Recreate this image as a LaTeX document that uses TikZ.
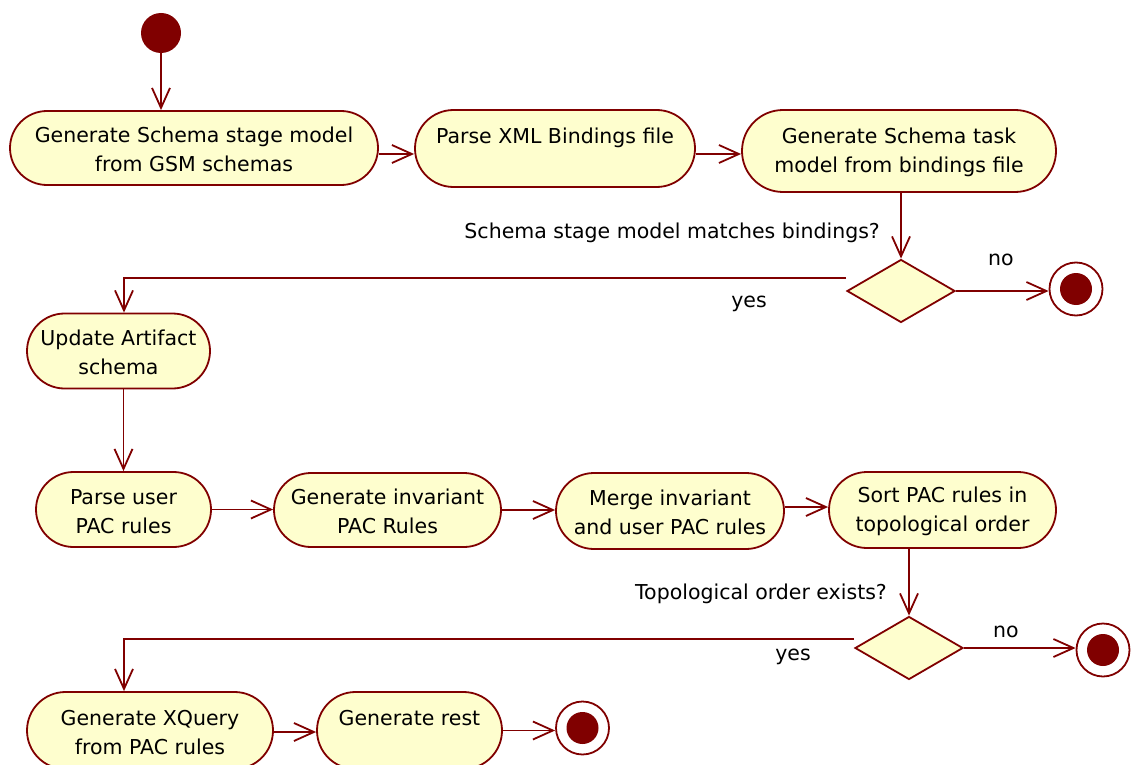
\documentclass[tikz,border=0pt]{standalone}
\usepackage{fontspec}
\setmainfont{DejaVu Sans}
\usetikzlibrary{arrows.meta,shapes.geometric,shapes.misc,calc}
\definecolor{uml}{HTML}{800000}
\definecolor{actfill}{HTML}{FEFECE}

\begin{document}
\begin{tikzpicture}[x=1pt,y=-1pt,
  every node/.style={font=\fontsize{20.5}{29}\selectfont, inner sep=0pt},
  act/.style={rounded rectangle, draw=uml, fill=actfill, line width=1.8pt, align=center},
  choice/.style={diamond, draw=uml, fill=actfill, line width=1.8pt, minimum width=108pt, minimum height=63pt},
  startnode/.style={circle, fill=uml, minimum size=40pt},
  endnode/.style={circle, draw=uml, fill=white, line width=1.8pt, minimum size=53pt,
    path picture={\fill[uml] (path picture bounding box.center) circle (16pt);}},
  flow/.style={draw=uml, line width=1.8pt, -{Straight Barb[length=20pt,width=18pt]}}]

\useasboundingbox (0,0) rectangle (1132,765);
\clip (0,0) rectangle (1132,765);

% activities
\node[startnode] (s) at (161,33) {};
\node[act, minimum width=368pt, minimum height=74pt] (n1) at (194,148) {\rule{0pt}{19pt}Generate Schema stage model\\from GSM schemas};
\node[act, minimum width=280pt, minimum height=77pt] (n2) at (555,148.5) {\rule{0pt}{19pt}Parse XML Bindings file\\\mbox{}};
\node[act, minimum width=314pt, minimum height=82pt] (n3) at (899,151) {\rule{0pt}{19pt}Generate Schema task\\model from bindings file};
\node[choice] (d1) at (901,291) {};
\node[endnode] (f1) at (1076,289) {};
\node[act, minimum width=183pt, minimum height=75pt] (n4) at (118.5,351) {\rule{0pt}{19pt}Update Artifact\\schema};
\node[act, minimum width=175pt, minimum height=75pt] (n5) at (123.5,509.5) {\rule{0pt}{19pt}Parse user\\PAC rules};
\node[act, minimum width=227pt, minimum height=74pt] (n6) at (387.5,510) {\rule{0pt}{19pt}Generate invariant\\PAC Rules};
\node[act, minimum width=228pt, minimum height=76pt] (n7) at (670,511) {\rule{0pt}{19pt}Merge invariant\\and user PAC rules};
\node[act, minimum width=227pt, minimum height=76pt] (n8) at (942.5,510) {\rule{0pt}{19pt}Sort PAC rules in\\topological order};
\node[choice] (d2) at (909,648) {};
\node[endnode] (f2) at (1103,650) {};
\node[act, minimum width=246pt, minimum height=77pt] (n9) at (150,730.5) {\rule{0pt}{19pt}Generate XQuery\\from PAC rules};
\node[act, minimum width=185pt, minimum height=77pt] (n10) at (409.5,730.5) {\rule{0pt}{19pt}Generate rest\\\mbox{}};
\node[endnode] (f3) at (582.5,728) {};

% guard labels
\node[anchor=east] (q1) at (880,233) {Schema stage model matches bindings?};
\node (no1) at (1001,260) {no};
\node (yes1) at (749,304) {yes};
\node[anchor=east] (q2) at (887,594) {Topological order exists?};
\node (no2) at (1006,632) {no};
\node (yes2) at (793,657) {yes};

% control flow
\draw[flow] (s) -- (s |- n1.north);
\coordinate (a1) at ($(n1.east)+(0,6)$);
\draw[flow] (a1) -- (a1 -| n2.west);
\coordinate (a2) at ($(n2.east)+(0,5.5)$);
\draw[flow] (a2) -- (a2 -| n3.west);
\draw[flow] (d1.north |- n3.south) -- (d1.north);
\draw[flow] (d1.east) -- (d1.east -| f1.west);
\coordinate (b1) at ($(d1.west)+(0,-13)$);
\draw[flow] (b1) -| ([xshift=5.5pt]n4.north);
\draw[flow] (n4.south -| n5.north) -- (n5.north);
\draw[flow] (n5.east) -- (n5.east -| n6.west);
\draw[flow] (n6.east) -- (n6.east -| n7.west);
\coordinate (a7) at ($(n7.east)+(0,-4)$);
\draw[flow] (a7) -- (a7 -| n8.west);
\draw[flow] (d2.north |- n8.south) -- (d2.north);
\draw[flow] (d2.east) -- (d2.east -| f2.west);
\coordinate (b2) at ($(d2.west)+(0,-9)$);
\draw[flow] (b2) -| ([xshift=-26pt]n9.north);
\coordinate (a9) at ($(n9.east)+(0,1.5)$);
\draw[flow] (a9) -- (a9 -| n10.west);
\draw[flow] (n10.east) -- (n10.east -| f3.west);
\end{tikzpicture}
\end{document}
